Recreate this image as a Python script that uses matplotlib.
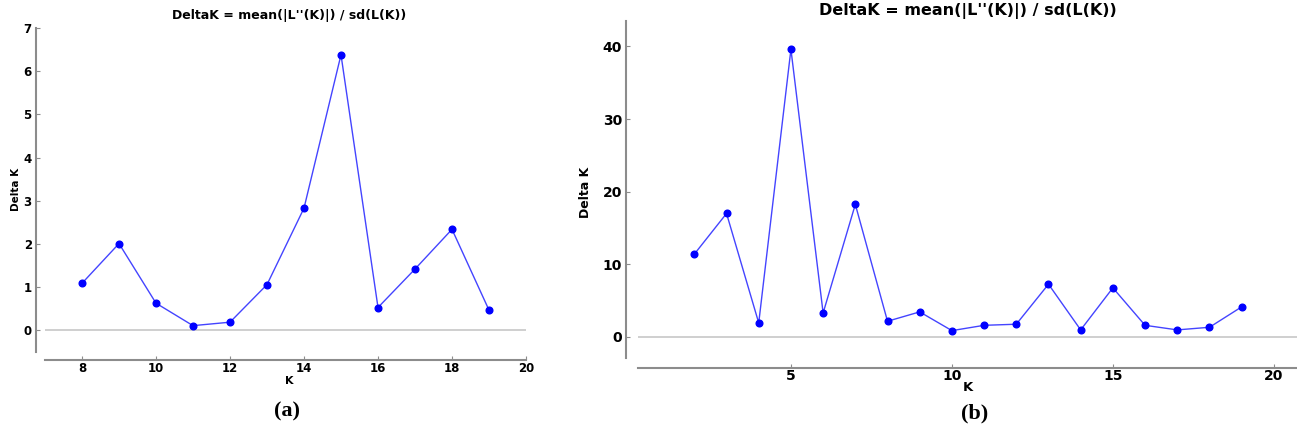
import numpy as np
import matplotlib
matplotlib.use('Agg')
import matplotlib.pyplot as plt

# Delta K (Evanno) plots for two STRUCTURE runs

# (a) K = 8..19
k_a = [8, 9, 10, 11, 12, 13, 14, 15, 16, 17, 18, 19]
dk_a = [1.09, 2.01, 0.63, 0.11, 0.19, 1.06, 2.83, 6.38, 0.53, 1.42, 2.34, 0.47]

# (b) K = 2..19
k_b = [2, 3, 4, 5, 6, 7, 8, 9, 10, 11, 12, 13, 14, 15, 16, 17, 18, 19]
dk_b = [11.4, 17.0, 1.93, 39.6, 3.3, 18.25, 2.16, 3.45, 0.87, 1.6, 1.75,
        7.26, 0.97, 6.76, 1.6, 0.97, 1.33, 4.14]

title = "DeltaK = mean(|L''(K)|) / sd(L(K))"

W, H = 1297, 433
fig = plt.figure(figsize=(W/100, H/100), dpi=100)

spine_col = '#8c8c8c'
line_col = '#4444ff'


def style_axes(ax, xoff, yoff, tsize):
    for s in ['top', 'right']:
        ax.spines[s].set_visible(False)
    ax.spines['left'].set_position(('outward', xoff))
    ax.spines['bottom'].set_position(('outward', yoff))
    for s in ['left', 'bottom']:
        ax.spines[s].set_color(spine_col)
        ax.spines[s].set_linewidth(1.5)
    ax.tick_params(direction='in', length=3, width=0.8, color=spine_col,
                   labelsize=tsize)
    ax.tick_params(axis='x', pad=1)
    ax.tick_params(axis='y', pad=3)
    for lab in ax.get_xticklabels() + ax.get_yticklabels():
        lab.set_fontweight('bold')


# ---------------------------------
# (a)
ax = fig.add_axes([45/W, 1 - 352/H, 481/W, 324/H])
ax.axhline(0, color='#cccccc', lw=1.3, zorder=1)
ax.plot(k_a, dk_a, '-', color=line_col, lw=1, zorder=2)
ax.plot(k_a, dk_a, 'o', color='blue', ms=4.8, mec='blue', zorder=3)
ax.set_xlim(7, 20)
ax.set_ylim(-0.5, 7)
ax.set_xticks([8, 10, 12, 14, 16, 18, 20])
ax.set_yticks(range(0, 8))
style_axes(ax, 6.5, 6, 8.5)
ax.set_xlabel('K', fontsize=8, fontweight='bold', va='center')
ax.xaxis.set_label_coords(0.507, -0.091)
ax.set_ylabel('Delta K', fontsize=7.5, fontweight='bold', va='center')
ax.yaxis.set_label_coords(-0.060, 0.503)
ax.text(0.507, 1.040, title, transform=ax.transAxes, ha='center', va='center',
        fontsize=9, fontweight='bold')

# ---------------------------------
# (b)
ax = fig.add_axes([638/W, 1 - 358/H, 660/W, 337/H])
ax.axhline(0, color='#cccccc', lw=1.3, zorder=1)
ax.plot(k_b, dk_b, '-', color=line_col, lw=1, zorder=2)
ax.plot(k_b, dk_b, 'o', color='blue', ms=4.8, mec='blue', zorder=3)
ax.set_xlim(0.25, 20.75)
ax.set_ylim(-2.9, 43.5)
ax.set_xticks([5, 10, 15, 20])
ax.set_yticks([0, 10, 20, 30, 40])
style_axes(ax, 8.5, 7, 10)
ax.set_xlabel('K', fontsize=9.5, fontweight='bold', va='center')
ax.xaxis.set_label_coords(0.5, -0.089)
ax.set_ylabel('Delta K', fontsize=9, fontweight='bold', va='center')
ax.yaxis.set_label_coords(-0.079, 0.49)
ax.text(0.5, 1.03, title, transform=ax.transAxes, ha='center', va='center',
        fontsize=11.5, fontweight='bold')

# panel letters
fig.text(287/W, 1 - 411/H, '(a)', ha='center', va='center',
         family='Liberation Serif', fontweight='bold', fontsize=16)
fig.text(975/W, 1 - 413/H, '(b)', ha='center', va='center',
         family='Liberation Serif', fontweight='bold', fontsize=16)

fig.savefig('out.png', dpi=100)
